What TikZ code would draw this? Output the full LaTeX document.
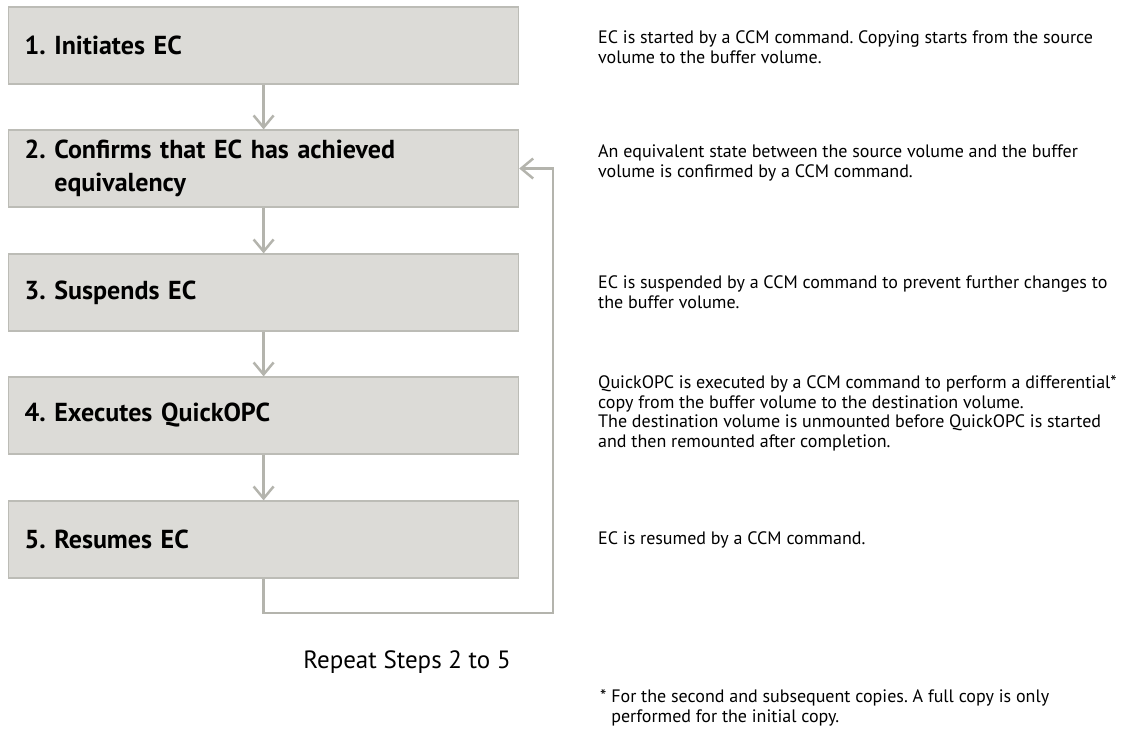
\documentclass[tikz,border=0pt]{standalone}
\usepackage{fontspec}
\setmainfont{PT Sans}
\usepackage{tikz}
\usetikzlibrary{arrows,arrows.meta}
\frenchspacing

\definecolor{boxfill}{RGB}{220,219,215}
\definecolor{boxline}{RGB}{188,188,182}
\definecolor{flowgray}{RGB}{180,180,173}

\begin{document}
\begin{tikzpicture}[x=1pt,y=-1pt,
stepbox/.style={draw=boxline,fill=boxfill,line width=1.2pt,anchor=west,align=left,
  text width=478pt,inner xsep=16pt,minimum height=77pt,font=\fontsize{26}{33}\selectfont\bfseries},
desc/.style={anchor=west,align=left,inner sep=0pt,font=\fontsize{18}{19.5}\selectfont},
flowarrow/.style={-{Straight Barb[length=12pt,width=20pt]},draw=flowgray,line width=2.5pt} ]

\useasboundingbox (0,0) rectangle (1139,729);

\node[stepbox](step1) at (8,45.5) {1. Initiates EC};

\node[stepbox](step2) at (8,168.5) {2.\ Confirms that EC has achieved\\\phantom{2.\ }equivalency};

\node[stepbox](step3) at (8,292.5) {3. Suspends EC};

\node[stepbox](step4) at (8,415.5) {4. Executes QuickOPC};

\node[stepbox](step5) at (8,539.5) {5. Resumes EC};

\node[desc](note1) at (598,47) {EC is started by a CCM command. Copying starts from the source\\volume to the buffer volume.};

\node[desc](note2) at (598,163) {An equivalent state between the source volume and the buffer\\volume is confirmed by a CCM command.};

\node[desc](note3) at (598,292) {EC is suspended by a CCM command to prevent further changes to\\the buffer volume.};

\node[desc](note4) at (598,413.5) {QuickOPC is executed by a CCM command to perform a differential*\\copy from the buffer volume to the destination volume.\\The destination volume is unmounted before QuickOPC is started\\and then remounted after completion.};

\node[desc](note5) at (598,540) {EC is resumed by a CCM command.};

\node[font=\fontsize{25}{29}\selectfont](repeat) at (407,662) {Repeat Steps 2 to 5};

\node[desc](footnote) at (600,708) {*\ For the second and subsequent copies. A full copy is only\\\phantom{*\ }performed for the initial copy.};

\coordinate (loopturn) at (553,613);

\draw[flowarrow] (step1) -- (step2);

\draw[flowarrow] (step2) -- (step3);

\draw[flowarrow] (step3) -- (step4);

\draw[flowarrow] (step4) -- (step5);

\draw[flowarrow] (step5.south) |- (loopturn) |- (step2.east);
\end{tikzpicture}
\end{document}
